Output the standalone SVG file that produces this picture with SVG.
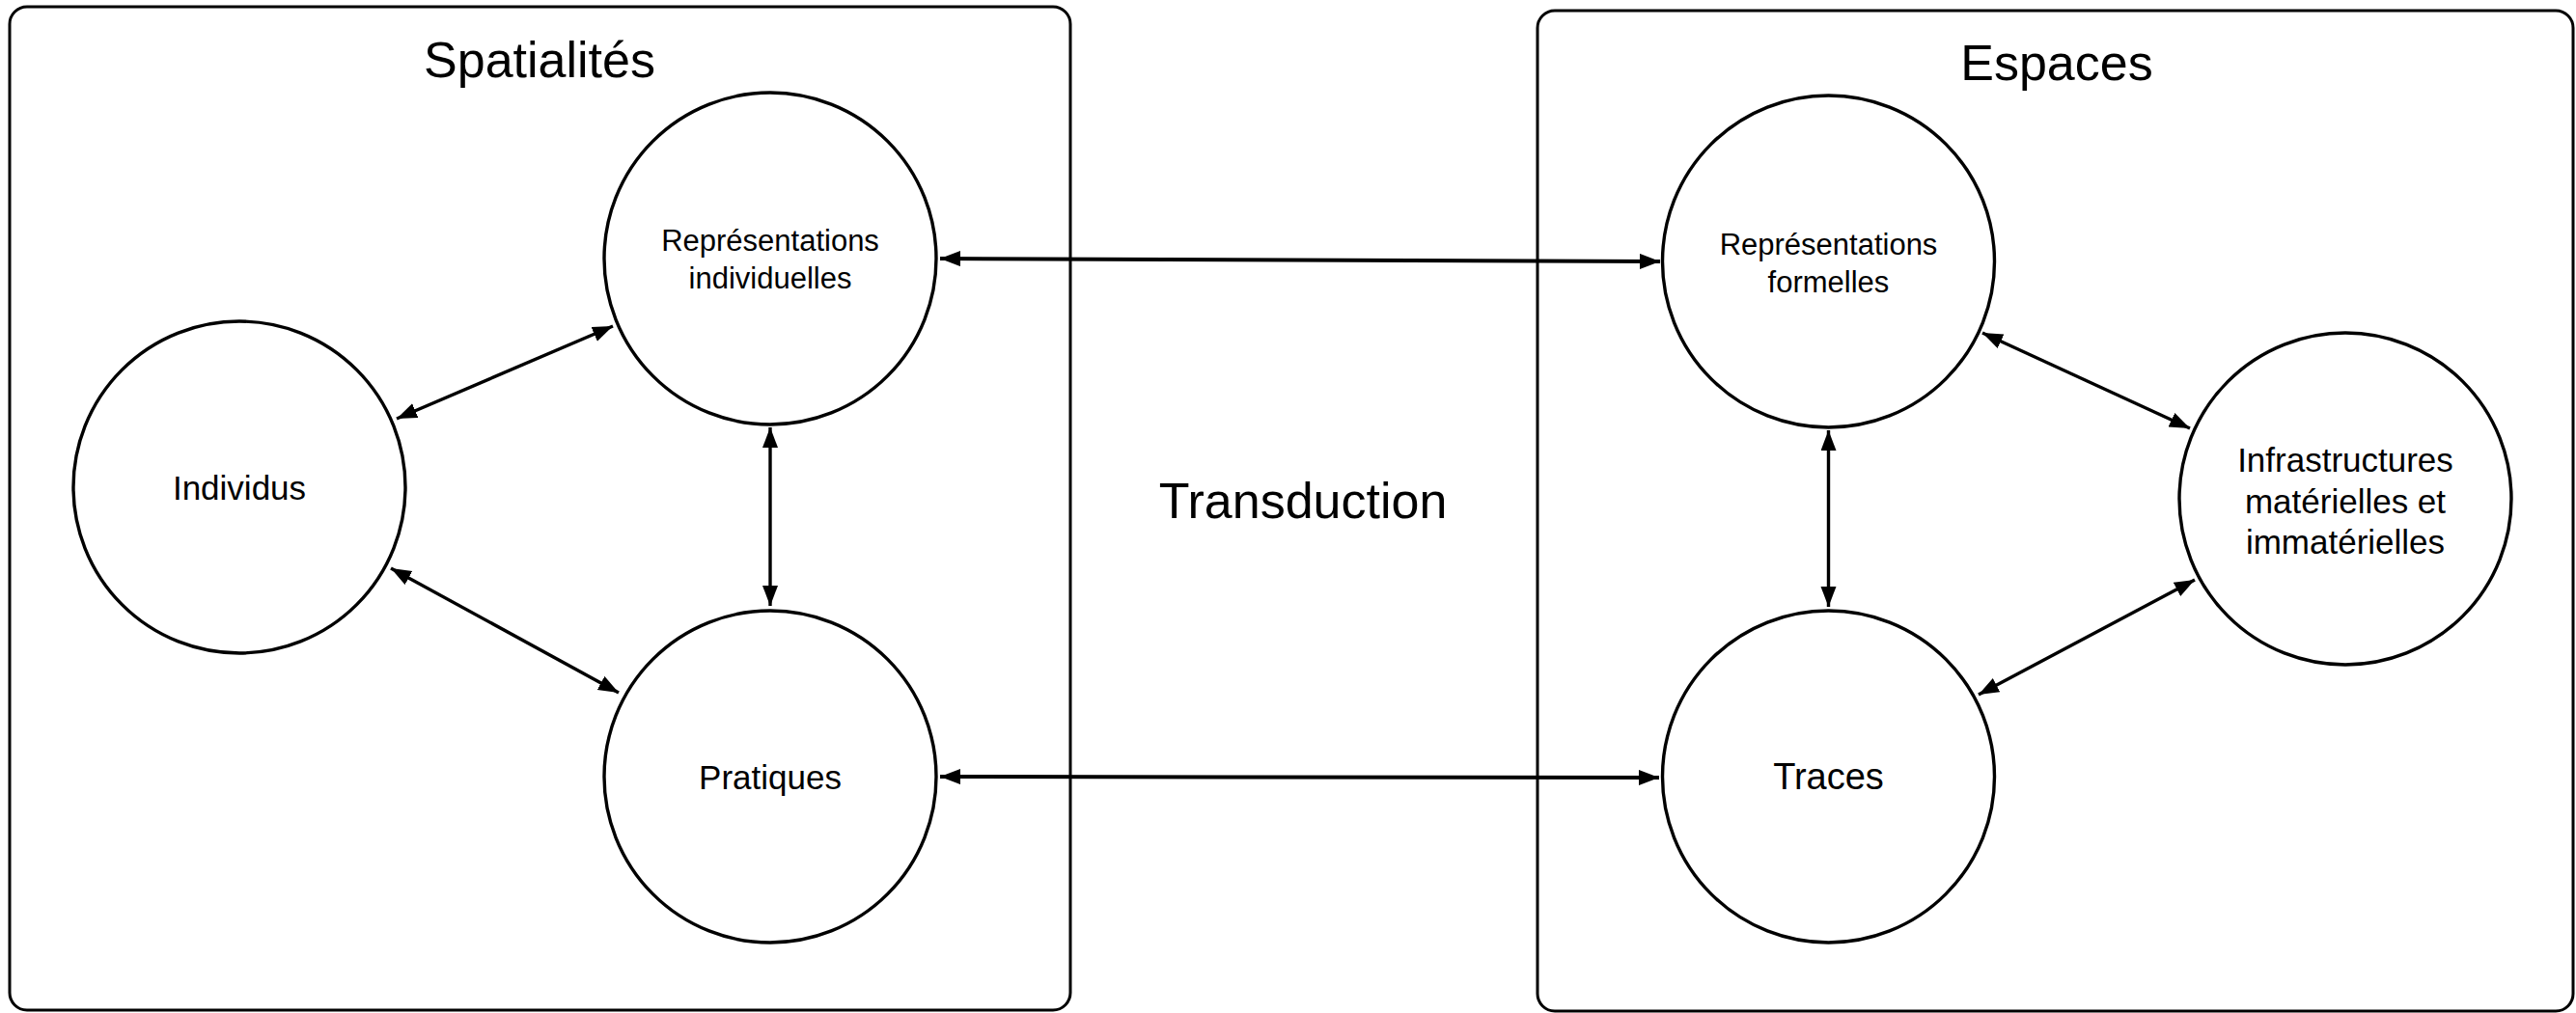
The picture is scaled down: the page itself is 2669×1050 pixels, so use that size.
<svg xmlns="http://www.w3.org/2000/svg" width="2669" height="1050" viewBox="0 0 2669 1050">
<style>
.box{fill:none;stroke:#000;stroke-width:3}
.node{fill:#fff;stroke:#000;stroke-width:3.4}
.t{font-family:"Liberation Sans",Arial,Helvetica,sans-serif;fill:#000;text-anchor:middle}
.title{font-size:52px}
.lbl{font-size:35px}
.lbll{font-size:38px}
.lbls{font-size:31px}
.edge{fill:none;stroke:#000;stroke-width:3.4}
.edge.h{stroke-width:4}
</style>
<defs>
<marker id="ah" markerUnits="userSpaceOnUse" markerWidth="22" markerHeight="18" viewBox="0 0 22 18" refX="21" refY="8" orient="auto-start-reverse">
<path d="M0,0 L21,8 L0,16 Z" fill="#000"/>
</marker>
</defs>
<rect width="2669" height="1050" fill="#fff"/>
<g id="group-spatialites">
<rect class="box" x="10" y="7" width="1099" height="1040" rx="18" ry="18"/>
<text class="t title" x="559" y="80">Spatialités</text>
</g>
<g id="group-espaces">
<rect class="box" x="1593" y="11" width="1073" height="1037" rx="18" ry="18"/>
<text class="t title" x="2131" y="83">Espaces</text>
</g>
<g id="label-transduction">
<text class="t title" x="1350" y="537">Transduction</text>
</g>
<g id="connectors">
<line class="edge h" x1="974" y1="268" x2="1720" y2="271" marker-start="url(#ah)" marker-end="url(#ah)"/>
<line class="edge h" x1="974" y1="805" x2="1719" y2="806" marker-start="url(#ah)" marker-end="url(#ah)"/>
<line class="edge" x1="411" y1="434" x2="635" y2="338" marker-start="url(#ah)" marker-end="url(#ah)"/>
<line class="edge" x1="405" y1="589" x2="641" y2="718" marker-start="url(#ah)" marker-end="url(#ah)"/>
<line class="edge" x1="798" y1="443" x2="798" y2="628" marker-start="url(#ah)" marker-end="url(#ah)"/>
<line class="edge" x1="1894.5" y1="446" x2="1894.5" y2="629" marker-start="url(#ah)" marker-end="url(#ah)"/>
<line class="edge" x1="2054" y1="345" x2="2269" y2="444" marker-start="url(#ah)" marker-end="url(#ah)"/>
<line class="edge" x1="2050" y1="720" x2="2274" y2="601" marker-start="url(#ah)" marker-end="url(#ah)"/>
</g>
<g id="node-rep-ind">
<circle class="node" cx="798" cy="268" r="172"/>
<text class="t lbls" x="798" y="260">Représentations</text>
<text class="t lbls" x="798" y="299">individuelles</text>
</g>
<g id="node-individus">
<circle class="node" cx="248" cy="505" r="172"/>
<text class="t lbl" x="248" y="518">Individus</text>
</g>
<g id="node-pratiques">
<circle class="node" cx="798" cy="805" r="172"/>
<text class="t lbl" x="798" y="818">Pratiques</text>
</g>
<g id="node-rep-form">
<circle class="node" cx="1894.5" cy="271" r="172"/>
<text class="t lbls" x="1894.5" y="264">Représentations</text>
<text class="t lbls" x="1894.5" y="303">formelles</text>
</g>
<g id="node-traces">
<circle class="node" cx="1894.5" cy="805" r="172"/>
<text class="t lbll" x="1894.5" y="818">Traces</text>
</g>
<g id="node-infra">
<circle class="node" cx="2430" cy="517" r="172"/>
<text class="t lbl" x="2430" y="489">Infrastructures</text>
<text class="t lbl" x="2430" y="532">matérielles et</text>
<text class="t lbl" x="2430" y="574">immatérielles</text>
</g>
</svg>
